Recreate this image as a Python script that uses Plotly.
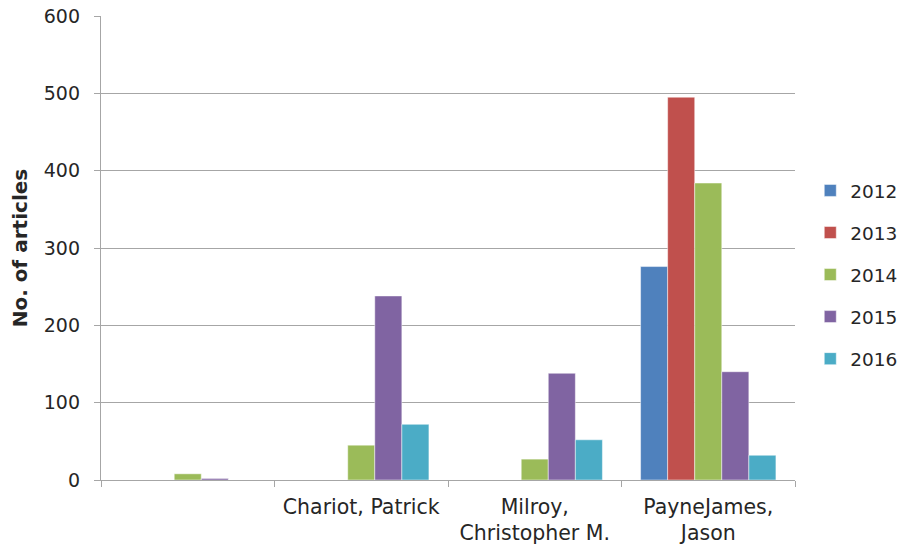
import plotly.graph_objects as go

categories = [" ", "Chariot, Patrick", "Milroy,<br>Christopher M.", "PayneJames,<br>Jason"]
years = ["2012", "2013", "2014", "2015", "2016"]
values = {
    "2012": [0, 0, 0, 276],
    "2013": [0, 0, 0, 495],
    "2014": [8, 45, 27, 384],
    "2015": [2, 238, 138, 140],
    "2016": [0, 72, 52, 32],
}
colors = ["#4F81BD", "#C0504D", "#9BBB59", "#8064A2", "#4BACC6"]

fig = go.Figure()
for y, c in zip(years, colors):
    fig.add_trace(go.Bar(
        x=categories, y=values[y], name=y, legendgroup=y,
        marker=dict(color=c, line=dict(color="rgba(255,255,255,0.6)", width=0.8)),
    ))

font = "DejaVu Sans, Verdana, sans-serif"
fig.update_layout(
    width=894, height=536,
    margin=dict(l=93, r=107, t=8, b=64, autoexpand=False),
    paper_bgcolor="white", plot_bgcolor="white",
    barmode="group", bargap=0.22, bargroupgap=0,
    font=dict(family=font, size=18, color="#262626"),
    showlegend=True,
    legend=dict(x=1.022, y=0.442, yanchor="middle", xanchor="left",
                font=dict(size=18.5), tracegroupgap=15, itemwidth=30,
                traceorder="grouped"),
    xaxis=dict(
        type="category", showgrid=False, showline=True, linecolor="#a6a6a6", linewidth=1.3,
        ticks="outside", tickson="boundaries", ticklen=6, tickcolor="#a6a6a6",
        tickfont=dict(size=20.5), automargin=False, ticklabelstandoff=8,
    ),
    yaxis=dict(
        range=[0, 600], dtick=100, showgrid=True, gridcolor="#a6a6a6", gridwidth=1.3,
        showline=True, linecolor="#a6a6a6", linewidth=1.3,
        ticks="outside", ticklen=6, tickcolor="#a6a6a6", ticklabeloverflow="allow",
        tickfont=dict(size=19), zeroline=False, automargin=False, ticklabelstandoff=10,
        title=dict(text="<b>No. of articles</b>", font=dict(size=20), standoff=12),
    ),
)
fig.write_html("out.html")
